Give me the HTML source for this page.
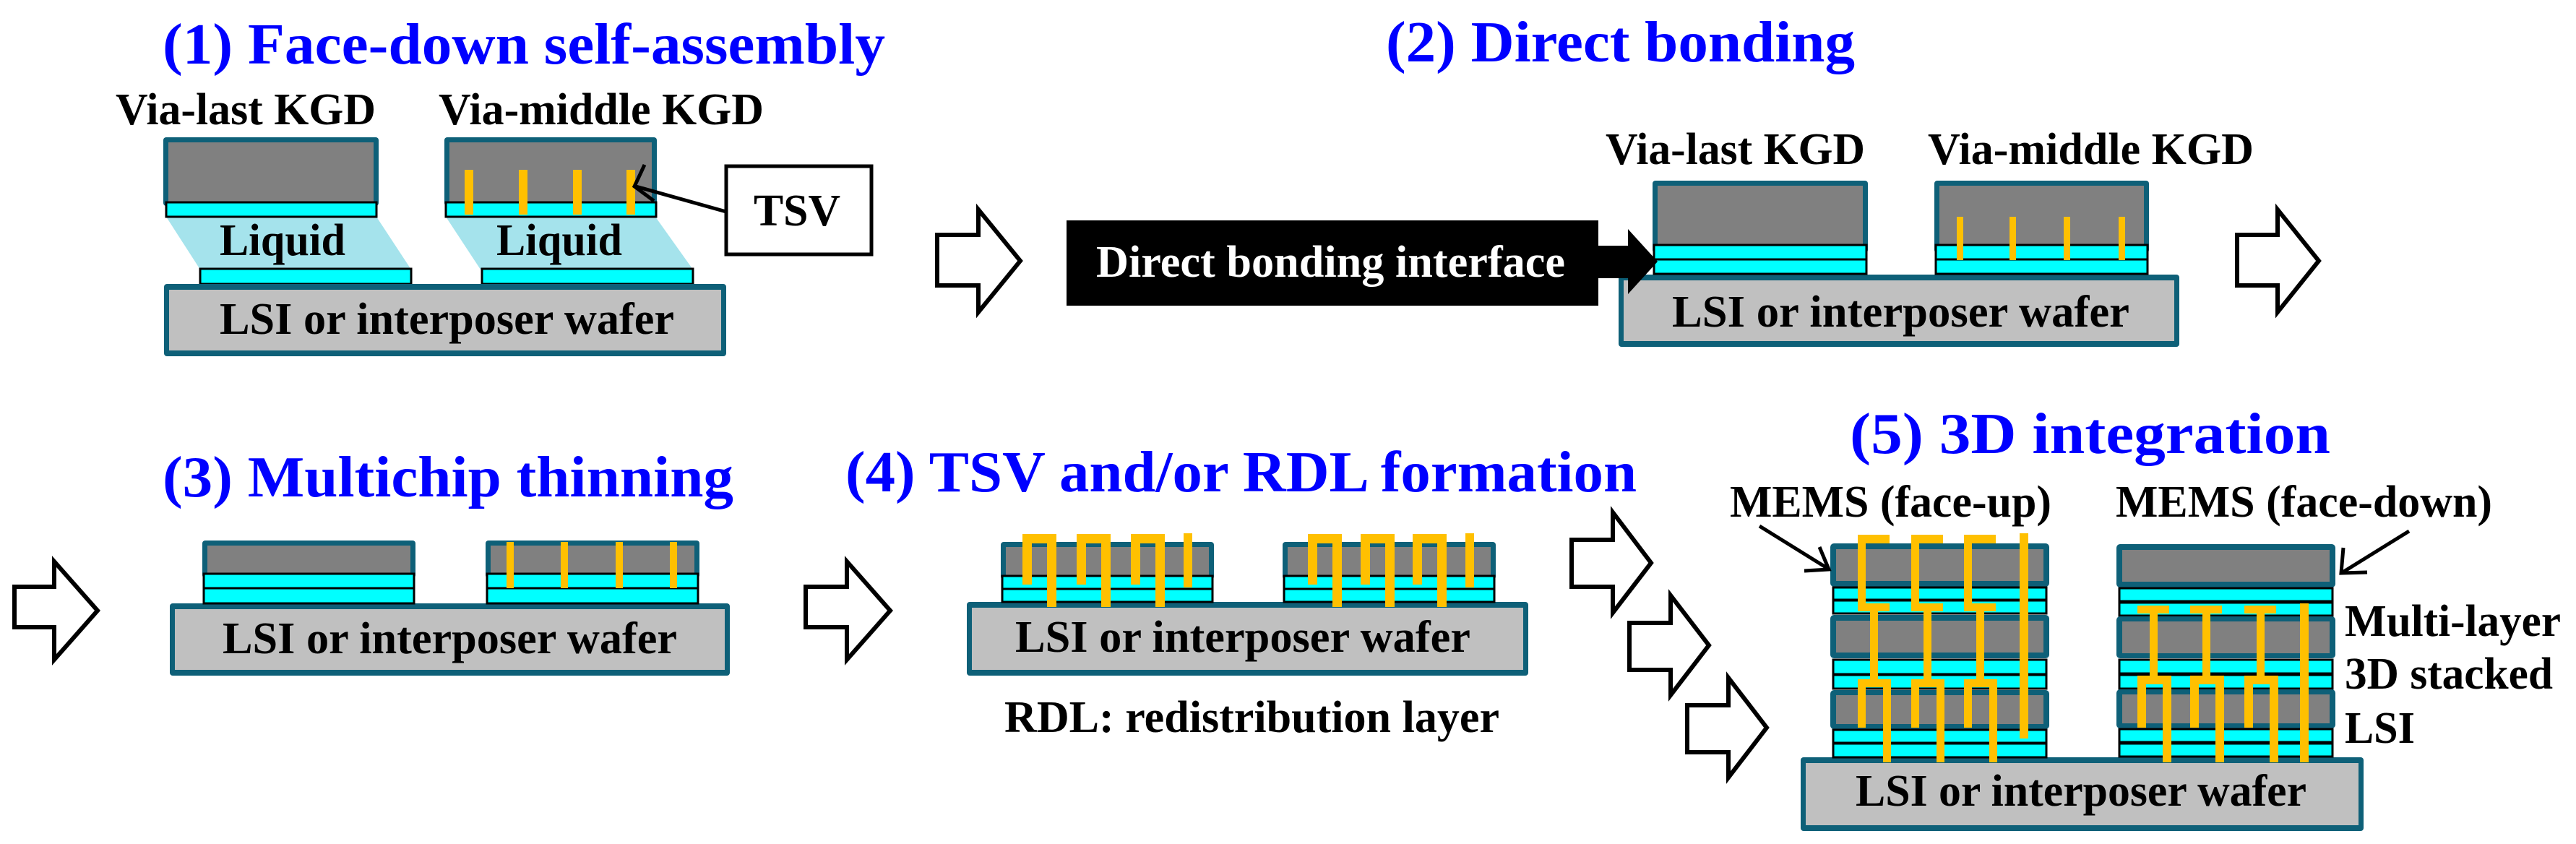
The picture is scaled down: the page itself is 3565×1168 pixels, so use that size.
<!DOCTYPE html>
<html><head><meta charset="utf-8"><style>
html,body{margin:0;padding:0;background:#fff;}
svg{display:block;}
svg text{font-family:"Liberation Serif","DejaVu Serif",serif !important;font-weight:bold;}
.t{fill:#0000FF;font-size:80px;}
.l{fill:#000;font-size:62px;}
.teal{fill:#0E6078;}
.gray{fill:#808080;}
.wg{fill:#C0C0C0;}
.cy{fill:#00FFFF;stroke:#000;stroke-width:3;}
.y{fill:#FFC000;}
.arr{fill:#fff;stroke:#000;stroke-width:6;stroke-linejoin:miter;}
</style></head><body>
<svg width="3565" height="1168" viewBox="0 0 3565 1168" xmlns="http://www.w3.org/2000/svg" font-family="'Liberation Serif', 'DejaVu Serif', serif" font-weight="bold">
<rect width="3565" height="1168" fill="#fff"/>

<!-- ===== Section 1 ===== -->
<text class="t" x="225" y="88" textLength="1000" lengthAdjust="spacingAndGlyphs">(1) Face-down self-assembly</text>
<text class="l" x="160" y="172" textLength="360" lengthAdjust="spacingAndGlyphs">Via-last KGD</text>
<text class="l" x="607" y="172" textLength="450" lengthAdjust="spacingAndGlyphs">Via-middle KGD</text>
<polygon points="230,300 521,300 569,373 277,373" fill="#A5E3EC"/>
<polygon points="617,300 907,300 959,373 665,373" fill="#A5E3EC"/>
<rect class="teal" x="226" y="190" width="298" height="95" rx="4"/>
<rect class="gray" x="233" y="197" width="284" height="84"/>
<rect class="cy" x="230" y="280" width="291" height="20"/>
<rect class="teal" x="615" y="190" width="294" height="95" rx="4"/>
<rect class="gray" x="622" y="197" width="280" height="84"/>
<rect class="cy" x="617" y="280" width="291" height="20"/>
<rect class="y" x="643" y="235" width="12" height="62"/>
<rect class="y" x="718" y="235" width="12" height="62"/>
<rect class="y" x="793" y="235" width="12" height="62"/>
<rect class="y" x="867" y="235" width="12" height="62"/>
<text class="l" x="304" y="353" font-size="60" textLength="174" lengthAdjust="spacingAndGlyphs">Liquid</text>
<text class="l" x="687" y="353" font-size="60" textLength="174" lengthAdjust="spacingAndGlyphs">Liquid</text>
<rect class="cy" x="277" y="372" width="292" height="21"/>
<rect class="cy" x="667" y="372" width="292" height="21"/>
<rect class="teal" x="227" y="393" width="778" height="100" rx="4"/>
<rect class="wg" x="234" y="401" width="764" height="84"/>
<text class="l" x="304" y="462" textLength="629" lengthAdjust="spacingAndGlyphs">LSI or interposer wafer</text>
<rect x="1005" y="230" width="201" height="122" fill="#fff" stroke="#000" stroke-width="5"/>
<text class="l" x="1043" y="312" textLength="120" lengthAdjust="spacingAndGlyphs">TSV</text>
<line x1="1005" y1="293" x2="880" y2="258" stroke="#000" stroke-width="5"/>
<polyline points="892,228 878,258 905,278" fill="none" stroke="#000" stroke-width="5"/>
<path class="arr" d="M1297,325 L1354,325 L1354,290 L1412,361 L1354,432 L1354,395 L1297,395 Z"/>

<!-- ===== Section 2 ===== -->
<text class="t" x="1918" y="85" textLength="649" lengthAdjust="spacingAndGlyphs">(2) Direct bonding</text>
<text class="l" x="2222" y="227" textLength="359" lengthAdjust="spacingAndGlyphs">Via-last KGD</text>
<text class="l" x="2668" y="227" textLength="451" lengthAdjust="spacingAndGlyphs">Via-middle KGD</text>
<rect class="teal" x="2240" y="380" width="776" height="100" rx="4"/>
<rect class="wg" x="2247" y="388" width="762" height="84"/>
<text class="l" x="2314" y="452" textLength="633" lengthAdjust="spacingAndGlyphs">LSI or interposer wafer</text>
<rect class="teal" x="2287" y="250" width="298" height="100" rx="4"/>
<rect class="gray" x="2294" y="257" width="284" height="84"/>
<rect class="cy" x="2289" y="339" width="294" height="20"/>
<rect class="cy" x="2289" y="359" width="294" height="20"/>
<rect class="teal" x="2677" y="250" width="297" height="100" rx="4"/>
<rect class="gray" x="2684" y="257" width="283" height="84"/>
<rect class="cy" x="2679" y="339" width="293" height="20"/>
<rect class="cy" x="2679" y="359" width="293" height="20"/>
<rect class="y" x="2708" y="300" width="9" height="60"/>
<rect class="y" x="2781" y="300" width="9" height="60"/>
<rect class="y" x="2856" y="300" width="9" height="60"/>
<rect class="y" x="2932" y="300" width="9" height="60"/>
<rect x="1476" y="305" width="736" height="118" fill="#000"/>
<rect x="2210" y="340" width="45" height="45" fill="#000"/>
<polygon points="2253,317 2294,362 2253,407" fill="#000"/>
<text class="l" x="1517" y="383" style="fill:#fff" textLength="649" lengthAdjust="spacingAndGlyphs">Direct bonding interface</text>
<path class="arr" d="M3096,325 L3152,325 L3152,290 L3209,361 L3152,432 L3152,395 L3096,395 Z"/>

<!-- ===== Section 3 ===== -->
<path class="arr" d="M20,812 L75,812 L75,777 L135,845 L75,913 L75,868 L20,868 Z"/>
<text class="t" x="225" y="687" textLength="790" lengthAdjust="spacingAndGlyphs">(3) Multichip thinning</text>
<rect class="teal" x="235" y="835" width="775" height="100" rx="4"/>
<rect class="wg" x="242" y="843" width="761" height="84"/>
<text class="l" x="308" y="904" textLength="629" lengthAdjust="spacingAndGlyphs">LSI or interposer wafer</text>
<rect class="teal" x="280" y="748" width="295" height="52" rx="4"/>
<rect class="gray" x="287" y="755" width="281" height="40"/>
<rect class="cy" x="282" y="794" width="291" height="20"/>
<rect class="cy" x="282" y="814" width="291" height="21"/>
<rect class="teal" x="672" y="748" width="296" height="52" rx="4"/>
<rect class="gray" x="679" y="755" width="282" height="40"/>
<rect class="cy" x="674" y="794" width="292" height="20"/>
<rect class="cy" x="674" y="814" width="292" height="21"/>
<rect class="y" x="701" y="750" width="10" height="64"/>
<rect class="y" x="776" y="750" width="10" height="64"/>
<rect class="y" x="852" y="750" width="10" height="64"/>
<rect class="y" x="927" y="750" width="10" height="64"/>
<path class="arr" d="M1115,812 L1172,812 L1172,777 L1232,845 L1172,913 L1172,868 L1115,868 Z"/>

<!-- ===== Section 4 ===== -->
<text class="t" x="1170" y="680" textLength="1095" lengthAdjust="spacingAndGlyphs">(4) TSV and/or RDL formation</text>
<rect class="teal" x="1338" y="833" width="777" height="102" rx="4"/>
<rect class="wg" x="1345" y="841" width="763" height="86"/>
<text class="l" x="1405" y="902" textLength="630" lengthAdjust="spacingAndGlyphs">LSI or interposer wafer</text>
<rect class="teal" x="1385" y="750" width="295" height="52" rx="4"/>
<rect class="gray" x="1392" y="757" width="281" height="40"/>
<rect class="cy" x="1387" y="797" width="291" height="18"/>
<rect class="cy" x="1387" y="815" width="291" height="18"/>
<rect class="teal" x="1775" y="750" width="295" height="52" rx="4"/>
<rect class="gray" x="1782" y="757" width="281" height="40"/>
<rect class="cy" x="1777" y="797" width="291" height="18"/>
<rect class="cy" x="1777" y="815" width="291" height="18"/>
<g class="y">
<rect x="1415" y="739" width="47" height="13"/><rect x="1415" y="739" width="13" height="70"/><rect x="1449" y="739" width="13" height="101"/>
<rect x="1490" y="739" width="47" height="13"/><rect x="1490" y="739" width="13" height="70"/><rect x="1524" y="739" width="13" height="101"/>
<rect x="1565" y="739" width="47" height="13"/><rect x="1565" y="739" width="13" height="70"/><rect x="1599" y="739" width="13" height="101"/>
<rect x="1638" y="738" width="12" height="75"/>
<rect x="1810" y="739" width="47" height="13"/><rect x="1810" y="739" width="13" height="70"/><rect x="1844" y="739" width="13" height="101"/>
<rect x="1883" y="739" width="47" height="13"/><rect x="1883" y="739" width="13" height="70"/><rect x="1917" y="739" width="13" height="101"/>
<rect x="1955" y="739" width="47" height="13"/><rect x="1955" y="739" width="13" height="70"/><rect x="1989" y="739" width="13" height="101"/>
<rect x="2028" y="738" width="12" height="75"/>
</g>
<text class="l" x="1390" y="1013" textLength="685" lengthAdjust="spacingAndGlyphs">RDL: redistribution layer</text>
<path class="arr" d="M2175,747 L2232,747 L2232,709 L2285,779 L2232,848 L2232,812 L2175,812 Z"/>
<path class="arr" d="M2255,862 L2312,862 L2312,824 L2365,893 L2312,962 L2312,927 L2255,927 Z"/>
<path class="arr" d="M2335,976 L2392,976 L2392,938 L2445,1007 L2392,1076 L2392,1041 L2335,1041 Z"/>

<!-- ===== Section 5 ===== -->
<text class="t" x="2560" y="627" textLength="665" lengthAdjust="spacingAndGlyphs">(5) 3D integration</text>
<text class="l" x="2394" y="715" font-size="64" textLength="445" lengthAdjust="spacingAndGlyphs">MEMS (face-up)</text>
<text class="l" x="2928" y="715" font-size="64" textLength="521" lengthAdjust="spacingAndGlyphs">MEMS (face-down)</text>
<rect class="teal" x="2492" y="1048" width="779" height="102" rx="4"/>
<rect class="wg" x="2499" y="1056" width="765" height="86"/>
<text class="l" x="2568" y="1115" textLength="624" lengthAdjust="spacingAndGlyphs">LSI or interposer wafer</text>

<g>
<rect class="teal" x="2533" y="752" width="303" height="60" rx="5"/><rect class="gray" x="2541" y="760" width="287" height="44"/>
<rect class="cy" x="2537" y="813" width="295" height="17"/><rect class="cy" x="2537" y="831" width="295" height="18"/>
<rect class="teal" x="2533" y="851" width="303" height="60" rx="5"/><rect class="gray" x="2541" y="859" width="287" height="44"/>
<rect class="cy" x="2537" y="913" width="295" height="20"/><rect class="cy" x="2537" y="934" width="295" height="19"/>
<rect class="teal" x="2533" y="955" width="303" height="54" rx="5"/><rect class="gray" x="2541" y="962" width="287" height="40"/>
<rect class="cy" x="2537" y="1010" width="295" height="18"/><rect class="cy" x="2537" y="1029" width="295" height="19"/>
</g>
<g class="y">
<rect x="2571" y="740" width="44" height="12"/><rect x="2571" y="740" width="11" height="105"/><rect x="2571" y="835" width="44" height="11"/><rect x="2588" y="835" width="11" height="110"/><rect x="2571" y="940" width="45" height="11"/><rect x="2571" y="940" width="11" height="67"/><rect x="2606" y="940" width="11" height="115"/>
<rect x="2645" y="740" width="44" height="12"/><rect x="2645" y="740" width="11" height="105"/><rect x="2645" y="835" width="44" height="11"/><rect x="2662" y="835" width="11" height="110"/><rect x="2645" y="940" width="45" height="11"/><rect x="2645" y="940" width="11" height="67"/><rect x="2680" y="940" width="11" height="115"/>
<rect x="2718" y="740" width="44" height="12"/><rect x="2718" y="740" width="11" height="105"/><rect x="2718" y="835" width="44" height="11"/><rect x="2735" y="835" width="11" height="110"/><rect x="2718" y="940" width="45" height="11"/><rect x="2718" y="940" width="11" height="67"/><rect x="2753" y="940" width="11" height="115"/>
<rect x="2795" y="738" width="12" height="284"/>
</g>
<line x1="2435" y1="728" x2="2530" y2="787" stroke="#000" stroke-width="5"/>
<polyline points="2497,790 2531,788 2518,757" fill="none" stroke="#000" stroke-width="5"/>

<g>
<rect class="teal" x="2929" y="753" width="303" height="60" rx="5"/><rect class="gray" x="2937" y="761" width="287" height="44"/>
<rect class="cy" x="2933" y="814" width="295" height="18"/><rect class="cy" x="2933" y="834" width="295" height="18"/>
<rect class="teal" x="2929" y="853" width="303" height="58" rx="5"/><rect class="gray" x="2937" y="860" width="287" height="44"/>
<rect class="cy" x="2933" y="913" width="295" height="19"/><rect class="cy" x="2933" y="934" width="295" height="19"/>
<rect class="teal" x="2929" y="954" width="303" height="54" rx="5"/><rect class="gray" x="2937" y="961" width="287" height="40"/>
<rect class="cy" x="2933" y="1009" width="295" height="18"/><rect class="cy" x="2933" y="1029" width="295" height="18"/>
</g>
<g class="y">
<rect x="2958" y="838" width="44" height="11"/><rect x="2975" y="838" width="11" height="100"/><rect x="2958" y="935" width="46" height="12"/><rect x="2958" y="935" width="12" height="72"/><rect x="2993" y="935" width="12" height="120"/>
<rect x="3031" y="838" width="44" height="11"/><rect x="3048" y="838" width="11" height="100"/><rect x="3031" y="935" width="46" height="12"/><rect x="3031" y="935" width="12" height="72"/><rect x="3066" y="935" width="12" height="120"/>
<rect x="3106" y="838" width="44" height="11"/><rect x="3123" y="838" width="11" height="100"/><rect x="3106" y="935" width="46" height="12"/><rect x="3106" y="935" width="12" height="72"/><rect x="3141" y="935" width="12" height="120"/>
<rect x="3183" y="835" width="12" height="220"/>
</g>
<line x1="3334" y1="735" x2="3242" y2="792" stroke="#000" stroke-width="5"/>
<polyline points="3243,758 3240,793 3276,792" fill="none" stroke="#000" stroke-width="5"/>
<text class="l" x="3245" y="880" textLength="299" lengthAdjust="spacingAndGlyphs">Multi-layer</text>
<text class="l" x="3245" y="953" textLength="288" lengthAdjust="spacingAndGlyphs">3D stacked</text>
<text class="l" x="3245" y="1028" textLength="97" lengthAdjust="spacingAndGlyphs">LSI</text>
</svg>
</body></html>
